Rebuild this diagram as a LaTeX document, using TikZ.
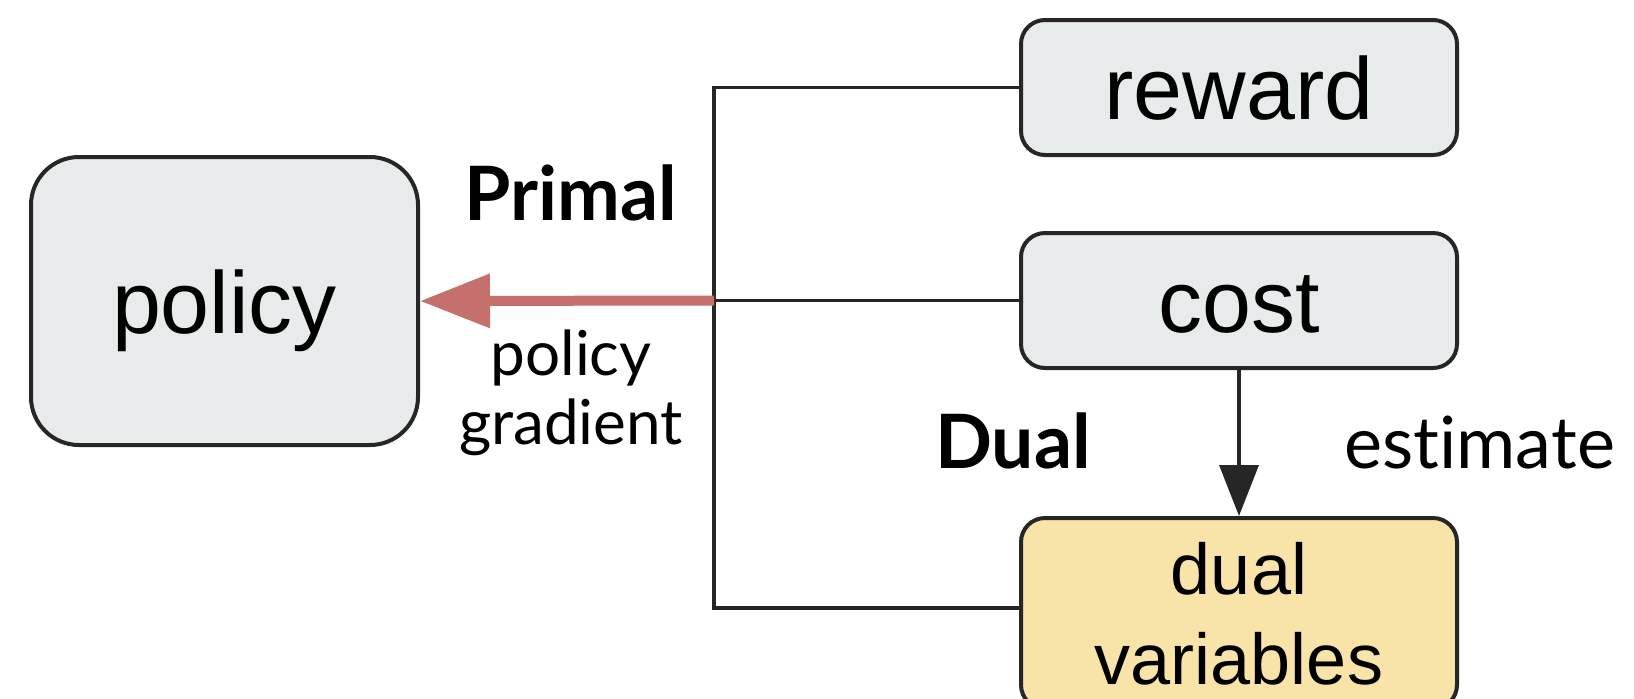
\documentclass[tikz,border=0pt]{standalone}
\usepackage{fontspec}
\setmainfont{Liberation Sans}
\newfontfamily\latofont[Ligatures=NoCommon]{Lato}
\usetikzlibrary{arrows.meta}
\definecolor{boxgray}{HTML}{E8EBEC}
\definecolor{boxyellow}{HTML}{F8E4A9}
\definecolor{edgedark}{HTML}{262626}
\definecolor{gradred}{HTML}{C6706D}
\tikzset{
  block/.style={draw=edgedark, line width=2pt, fill=boxgray, rounded corners=12pt,
    font=\fontsize{44}{52}\selectfont, text height=32pt, text depth=0pt, inner sep=0pt},
  wire/.style={draw=edgedark, line width=1.8pt},
  label/.style={font=\latofont\fontsize{31}{34.5}\selectfont, inner sep=0pt, align=center},
  heading/.style={font=\latofont\bfseries\fontsize{37.5}{44}\selectfont, inner sep=0pt}
}
\begin{document}
\begin{tikzpicture}[x=0.5pt, y=-0.5pt]
  \useasboundingbox (0,0) rectangle (1634,698);
  \clip (0,0) rectangle (1634,698);

  % boxes
  \node[block, rounded corners=24pt, minimum width=193.5pt, minimum height=144pt] (policy) at (224.5,301) {policy};
  \node[block, minimum width=218pt, minimum height=67.5pt] (reward) at (1239,87.5) {reward};
  \node[block, minimum width=218pt, minimum height=67.5pt] (cost) at (1239,300.5) {cost};
  \node[block, fill=boxyellow, anchor=north, minimum width=218pt, text height=, text depth=,
        font=\fontsize{36}{45}\selectfont, align=center, inner ysep=12pt] (dual) at (1239,516) {dual\\variables};

  % bus on the left of the right column
  \coordinate (bustop) at (714,87.5);
  \coordinate (busbot) at (714,608);
  \draw[wire] (reward.west) -- (bustop) -- (busbot) -- (busbot -| dual.west);
  \draw[wire] (cost.west) -- (cost.west -| bustop) coordinate (busmid);

  % primal update
  \draw[gradred, line width=5pt, -{Triangle[length=35pt,width=26pt]}] (busmid) -- (policy.east);

  % dual update
  \draw[wire, -{Triangle[length=25.5pt,width=19.5pt]}] (cost.south) -- (dual.north);

  % labels
  \node[heading, anchor=base] (primal) at (571,220) {Primal};
  \node[label, anchor=north] (pg) at (571,329) {policy\\gradient};
  \node[heading, anchor=base] (duallbl) at (1013,468) {Dual};
  \node[label, font=\latofont\fontsize{36}{40}\selectfont, anchor=base west] (est) at (1344,468) {estimate};
\end{tikzpicture}
\end{document}
